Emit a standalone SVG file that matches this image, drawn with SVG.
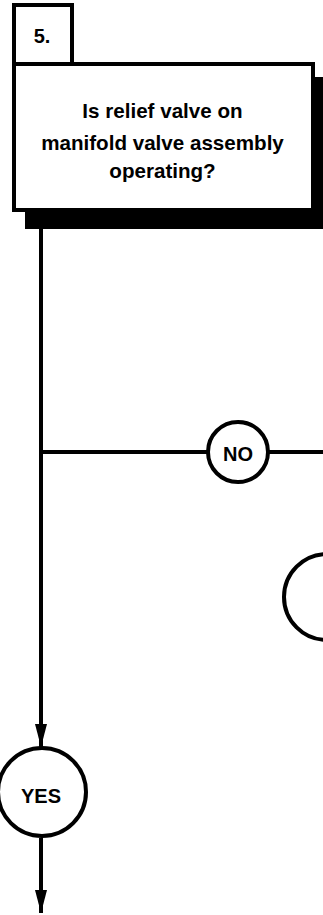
<svg xmlns="http://www.w3.org/2000/svg" width="323" height="915" viewBox="0 0 323 915">
<style>
.box{fill:#fff;stroke:#000;stroke-width:4}
.ln{fill:none;stroke:#000;stroke-width:4}
.circ{fill:#fff;stroke:#000;stroke-width:4}
text{font-family:"Liberation Sans",Arial,sans-serif;font-weight:bold;fill:#000;text-anchor:middle}
.t{font-size:20.6px}
.c{font-size:20px}
</style>
<defs>
<marker id="ah" markerWidth="23" markerHeight="12" refX="23" refY="6" orient="auto" markerUnits="userSpaceOnUse" viewBox="0 0 23 12">
<path d="M0,0 L23,6 L0,12 Z" fill="#000"/>
</marker>
</defs>
<g id="connectors">
<line class="ln" x1="41" y1="229" x2="41" y2="747" marker-end="url(#ah)"/>
<line class="ln" x1="41" y1="452" x2="323" y2="452"/>
<line class="ln" x1="41" y1="838" x2="41" y2="913" marker-end="url(#ah)"/>
</g>
<g id="step5">
<rect x="25" y="77" width="300" height="152" fill="#000"/>
<rect class="box" x="14" y="5" width="58" height="59"/>
<text x="42" y="43" font-size="20">5.</text>
<rect class="box" x="14" y="64" width="299" height="146"/>
<text class="t" x="162.5" y="118">Is relief valve on</text>
<text class="t" x="162.5" y="150">manifold valve assembly</text>
<text class="t" x="162.5" y="178">operating?</text>
</g>
<g id="no">
<circle class="circ" cx="238" cy="452" r="30"/>
<text class="c" x="238" y="461">NO</text>
</g>
<g id="offpage">
<circle class="circ" cx="327" cy="597" r="43"/>
</g>
<g id="yes">
<circle class="circ" cx="42" cy="792" r="44"/>
<text class="c" x="41" y="803">YES</text>
</g>
</svg>
